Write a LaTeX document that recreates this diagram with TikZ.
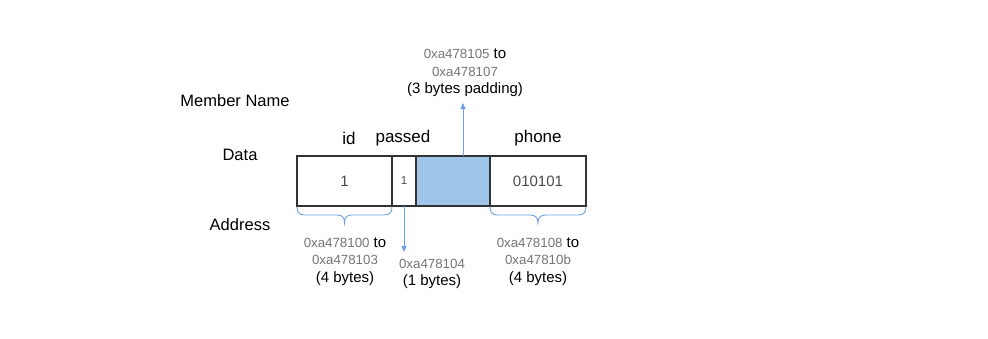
\documentclass[tikz,border=0pt]{standalone}
\usepackage{fontspec}
\setmainfont{Liberation Sans}
\usetikzlibrary{arrows.meta}
\definecolor{cell}{HTML}{333333}
\definecolor{pad}{HTML}{9FC5E8}
\definecolor{accent}{HTML}{6D9EEB}
\definecolor{addr}{HTML}{757575}
\definecolor{val}{HTML}{4A4A4A}
\newcommand{\ad}[1]{\textcolor{addr}{\fontsize{13.3}{17}\selectfont #1}}
\tikzset{
  cellbox/.style={draw=cell, line width=1.3pt},
  rowlabel/.style={font=\fontsize{16.5}{20}\selectfont, inner sep=0pt},
  fieldname/.style={font=\fontsize{17}{20}\selectfont, inner sep=0pt},
  cellval/.style={text=val, font=\fontsize{15}{18}\selectfont, inner sep=0pt},
  note/.style={align=center, inner sep=0pt, font=\fontsize{15}{17.4}\selectfont},
  pointer/.style={draw=accent, line width=0.9pt, -{Triangle[length=6pt,width=5pt]}},
  bracket/.style={draw=accent, line width=0.9pt, line cap=round},
}
\begin{document}
\begin{tikzpicture}[x=1pt,y=-1pt]
\useasboundingbox (0,0) rectangle (988,338);

% row labels
\node[rowlabel] (lname) at (235,101) {Member Name};
\node[rowlabel] (ldata) at (240,155) {Data};
\node[rowlabel] (laddr) at (240,225) {Address};

% field names
\node[fieldname] (nid) at (349,138) {id};
\node[fieldname] (npassed) at (403,138) {passed};
\node[fieldname] (nphone) at (538,138) {phone};

% memory cells
\draw[cellbox] (297,156) rectangle (392,206);
\draw[cellbox] (392,156) rectangle (416,206);
\draw[cellbox, fill=pad] (416,156) rectangle (490,206);
\draw[cellbox] (490,156) rectangle (586,206);
\coordinate (idc) at (344.5,181);
\coordinate (pc) at (404,181);
\coordinate (padtop) at (463,156);
\coordinate (pbot) at (404,206);
\node[cellval] (vid) at (idc) {1};
\node[cellval, font=\fontsize{11.5}{13}\selectfont] (vpassed) at (pc) {1};
\node[cellval] (vphone) at (538,181) {010101};

% braces under id and phone
\draw[bracket] (297,207) .. controls (297,212) and (299,215) .. (305,215) -- (337,215)
  .. controls (342,215) and (344.5,217) .. (344.5,223)
  .. controls (344.5,217) and (347,215) .. (352,215) -- (384,215)
  .. controls (390,215) and (392,212) .. (392,207);
\draw[bracket] (490,207) .. controls (490,212) and (492,215) .. (498,215) -- (530,215)
  .. controls (535,215) and (538,217) .. (538,223)
  .. controls (538,217) and (541,215) .. (546,215) -- (578,215)
  .. controls (584,215) and (586,212) .. (586,207);

% address notes
\node[note] (aid) at (345,261.5) {\ad{0xa478100} to\\\ad{0xa478103}\\(4 bytes)};
\node[note] (apassed) at (432,274) {\ad{0xa478104}\\(1 bytes)};
\node[note] (aphone) at (538,261.5) {\ad{0xa478108} to\\\ad{0xa47810b}\\(4 bytes)};
\node[note] (apad) at (465,73) {\ad{0xa478105} to\\\ad{0xa478107}\\(3 bytes padding)};

% pointers
\coordinate (pend) at (404,252);
\coordinate (padend) at (463,103);
\draw[pointer] (pbot) -- (pend);
\draw[pointer] (padtop) -- (padend);
\end{tikzpicture}
\end{document}
